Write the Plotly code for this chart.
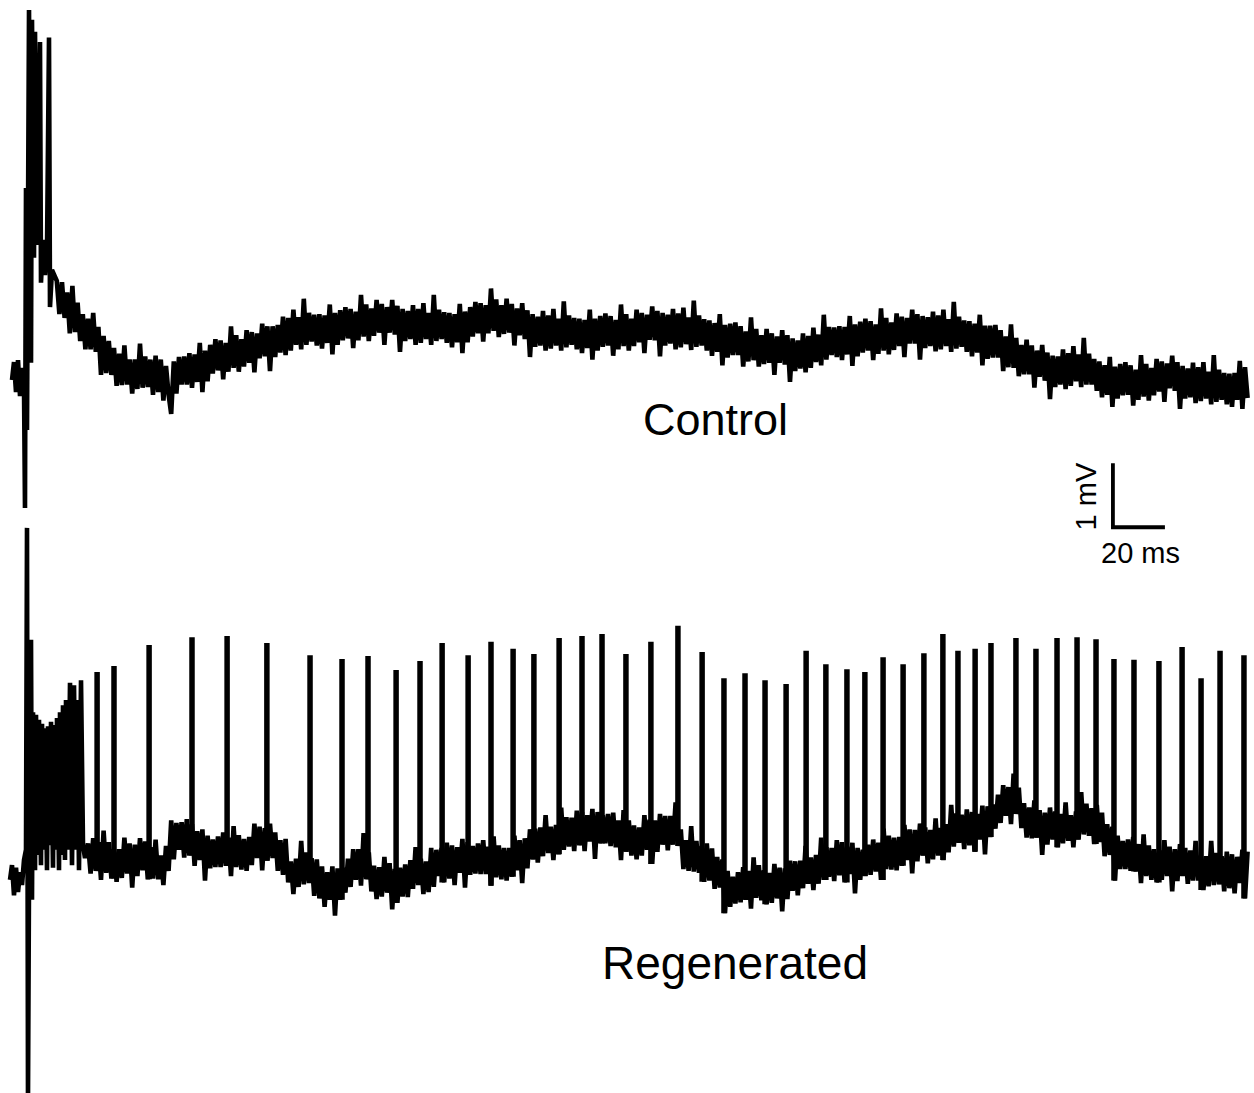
import numpy as np
import plotly.graph_objects as go

# ---------------------------------------------------------------
# Field-potential recordings (time in ms, voltage in mV)
# ---------------------------------------------------------------

# Control: stimulus artefact and onset transient
ctrl_t_onset = [0.77, 1.54, 2.31, 3.08, 3.85, 4.62, 5.38, 5.77, 6.15, 6.54,
                7.31, 8.08, 8.46, 9.23, 9.62, 10.38, 11.54, 11.92, 12.69,
                13.46, 14.23, 15.0, 15.38, 16.15]
ctrl_v_onset = [-0.47, -0.19, -0.66, -0.16, -0.72, -0.28, -0.55, -2.47, 2.53, -1.25,
                5.31, -0.20, 5.16, 1.44, 4.97, 1.64, 4.81, 1.05, 1.72,
                1.17, 1.56, 4.88, 0.67, 1.25]

# Control: samples every 1 ms from 18 ms
ctrl_t_start = 18.0
ctrl_dt = 1.0
ctrl_v = [
    1.08, 0.56, 1.06, 0.50, 0.90, 0.26, 1.00, 0.28, 0.74, 0.14,
    0.56, 0.01, 0.49, 0.01, 0.58, -0.03, 0.36, -0.39, 0.22, -0.36,
    0.14, -0.39, 0.03, -0.56, -0.06, -0.55, 0.07, -0.54, -0.15, -0.68,
    -0.15, -0.61, 0.10, -0.59, -0.10, -0.58, -0.15, -0.70, -0.09, -0.66,
    -0.15, -0.79, -0.25, -0.70, -1.00, -0.18, -0.68, -0.11, -0.54, -0.10,
    -0.54, -0.05, -0.59, -0.07, -0.50, 0.11, -0.66, -0.01, -0.49, 0.08,
    -0.37, 0.17, -0.32, 0.15, -0.46, 0.11, -0.34, 0.37, -0.28, 0.23,
    -0.34, 0.17, -0.26, 0.31, -0.20, 0.28, -0.35, 0.26, -0.13, 0.41,
    -0.10, 0.37, -0.33, 0.37, -0.11, 0.39, -0.04, 0.52, -0.08, 0.50,
    -0.01, 0.63, 0.08, 0.51, 0.01, 0.80, 0.08, 0.58, 0.13, 0.55,
    0.07, 0.56, 0.02, 0.54, 0.11, 0.71, -0.07, 0.58, 0.08, 0.62,
    0.15, 0.67, 0.18, 0.64, 0.03, 0.60, 0.15, 0.86, 0.21, 0.71,
    0.14, 0.65, 0.22, 0.78, 0.27, 0.72, 0.08, 0.67, 0.27, 0.78,
    0.24, 0.69, -0.03, 0.64, 0.14, 0.61, 0.17, 0.70, 0.08, 0.64,
    0.11, 0.73, 0.17, 0.58, 0.08, 0.86, 0.14, 0.63, 0.17, 0.59,
    0.11, 0.58, 0.04, 0.56, 0.12, 0.72, -0.05, 0.60, 0.12, 0.67,
    0.21, 0.75, 0.26, 0.73, 0.13, 0.70, 0.26, 0.96, 0.30, 0.79,
    0.20, 0.70, 0.25, 0.80, 0.27, 0.72, 0.07, 0.65, 0.23, 0.73,
    0.17, 0.62, -0.11, 0.56, 0.05, 0.52, 0.07, 0.61, -0.01, 0.54,
    0.02, 0.64, 0.07, 0.49, -0.01, 0.76, 0.04, 0.54, 0.08, 0.50,
    0.01, 0.49, -0.05, 0.47, 0.03, 0.63, -0.15, 0.49, -0.01, 0.53,
    0.05, 0.57, 0.07, 0.53, -0.09, 0.47, 0.01, 0.71, 0.06, 0.56,
    -0.01, 0.49, 0.06, 0.63, 0.12, 0.58, -0.05, 0.55, 0.16, 0.68,
    0.15, 0.61, -0.10, 0.58, 0.07, 0.55, 0.10, 0.64, 0.01, 0.57,
    0.04, 0.66, 0.09, 0.51, 0.00, 0.77, 0.05, 0.54, 0.07, 0.48,
    -0.01, 0.46, -0.09, 0.42, -0.03, 0.56, -0.24, 0.39, -0.12, 0.41,
    -0.08, 0.43, -0.08, 0.37, -0.26, 0.29, -0.18, 0.51, -0.16, 0.33,
    -0.26, 0.23, -0.22, 0.33, -0.20, 0.26, -0.39, 0.21, -0.20, 0.31,
    -0.23, 0.23, -0.50, 0.18, -0.33, 0.15, -0.29, 0.26, -0.35, 0.22,
    -0.28, 0.35, -0.19, 0.24, -0.24, 0.55, -0.15, 0.36, -0.08, 0.35,
    -0.11, 0.37, -0.16, 0.36, -0.07, 0.53, -0.25, 0.40, -0.10, 0.44,
    -0.04, 0.49, -0.01, 0.45, -0.16, 0.40, -0.06, 0.65, -0.01, 0.50,
    -0.07, 0.43, 0.00, 0.57, 0.06, 0.52, -0.11, 0.50, 0.10, 0.63,
    0.10, 0.56, -0.15, 0.53, 0.03, 0.51, 0.06, 0.60, -0.02, 0.54,
    0.01, 0.63, 0.06, 0.48, -0.03, 0.75, 0.02, 0.52, 0.05, 0.46,
    -0.03, 0.45, -0.10, 0.41, -0.04, 0.55, -0.24, 0.38, -0.14, 0.38,
    -0.12, 0.39, -0.12, 0.31, -0.33, 0.21, -0.27, 0.40, -0.28, 0.19,
    -0.41, 0.08, -0.38, 0.16, -0.38, 0.07, -0.59, -0.01, -0.42, 0.08,
    -0.48, -0.04, -0.77, -0.09, -0.58, -0.10, -0.54, 0.01, -0.61, -0.05,
    -0.56, 0.06, -0.49, -0.07, -0.58, 0.19, -0.54, -0.06, -0.54, -0.14,
    -0.64, -0.18, -0.74, -0.24, -0.70, -0.11, -0.89, -0.26, -0.76, -0.22,
    -0.71, -0.19, -0.70, -0.24, -0.87, -0.31, -0.78, -0.08, -0.73, -0.22,
    -0.79, -0.28, -0.71, -0.14, -0.65, -0.18, -0.81, -0.21, -0.60, -0.09,
    -0.64, -0.19, -0.92, -0.25, -0.76, -0.29, -0.74, -0.20, -0.83, -0.27,
    -0.80, -0.19, -0.76, -0.34, -0.85, -0.08, -0.81, -0.31, -0.78, -0.36,
    -0.85, -0.37, -0.89, -0.36, -0.78, -0.17, -0.92, -0.27, -0.75,
]

# Regenerated: artefact and high-frequency burst at onset
regen_t_onset = [0.0, 0.77, 1.54, 2.31, 3.08, 3.85, 4.62, 5.38, 6.15, 6.54,
                 6.92, 7.31, 8.08, 8.46, 8.85, 9.62, 10.0, 10.77, 11.15, 11.92,
                 12.31, 13.08, 13.46, 14.23, 14.62, 15.38, 15.77, 16.54, 16.92, 17.69,
                 18.08, 18.85, 19.23, 20.0, 20.38, 21.15, 21.54, 22.31, 23.08, 23.85,
                 24.62, 25.38, 25.77, 26.54, 27.31, 28.08, 28.85]
regen_v_onset = [-0.31, -0.08, -0.55, -0.12, -0.50, -0.19, -0.39, 0.00, 0.16, 5.19,
                 -3.75, -0.31, 3.44, -0.62, 2.31, -0.16, 2.27, 0.08, 2.19, -0.08,
                 2.13, 0.16, 2.06, -0.16, 2.09, 0.23, 2.16, -0.12, 2.11, 0.16,
                 2.22, -0.16, 2.31, 0.08, 2.42, 0.00, 2.50, 0.16, 2.77, -0.08,
                 2.73, 0.16, 2.50, -0.16, 2.81, 0.23, 0.03]

# Regenerated: samples every 1 ms from 30 ms (between spikes)
regen_t_start = 30.0
regen_dt = 1.0
regen_v = [
    0.26, -0.21, 0.34, -0.17, 0.28, -0.31, 0.46, -0.20, 0.28, -0.29,
    0.17, -0.34, 0.17, -0.28, 0.35, -0.21, 0.26, -0.43, 0.24, -0.25,
    0.34, -0.16, 0.29, -0.30, 0.20, -0.29, 0.32, -0.30, 0.07, -0.39,
    0.22, -0.17, 0.62, 0.01, 0.58, 0.16, 0.59, 0.04, 0.64, 0.07,
    0.56, -0.09, 0.45, 0.00, 0.48, -0.32, 0.38, -0.13, 0.32, -0.11,
    0.37, -0.11, 0.43, -0.09, 0.35, -0.25, 0.53, -0.11, 0.39, -0.15,
    0.33, -0.17, 0.36, -0.08, 0.57, 0.03, 0.52, -0.16, 0.50, -0.01,
    0.57, 0.03, 0.43, -0.17, 0.31, -0.23, 0.33, -0.35, -0.02, -0.53,
    0.02, -0.42, 0.30, -0.38, 0.12, -0.36, 0.03, -0.56, 0.01, -0.60,
    -0.10, -0.73, -0.19, -0.62, -0.10, -0.87, -0.13, -0.62, -0.12, -0.51,
    0.02, -0.42, 0.17, -0.31, 0.17, -0.40, 0.42, -0.30, 0.12, -0.49,
    -0.09, -0.61, -0.11, -0.57, 0.05, -0.51, -0.05, -0.77, -0.14, -0.67,
    -0.12, -0.57, -0.07, -0.58, 0.00, -0.45, 0.20, -0.39, 0.02, -0.53,
    -0.02, -0.50, 0.19, -0.42, 0.16, -0.25, 0.19, -0.35, 0.27, -0.29,
    0.23, -0.39, 0.20, -0.20, 0.33, -0.43, 0.28, -0.23, 0.22, -0.21,
    0.26, -0.22, 0.31, -0.22, 0.21, -0.40, 0.37, -0.27, 0.23, -0.30,
    0.19, -0.32, 0.19, -0.26, 0.38, -0.16, 0.31, -0.36, 0.34, -0.13,
    0.48, 0.01, 0.49, -0.04, 0.51, 0.06, 0.70, 0.11, 0.52, 0.00,
    0.55, 0.09, 0.82, 0.16, 0.67, 0.21, 0.66, 0.14, 0.77, 0.23,
    0.75, 0.14, 0.70, 0.29, 0.80, 0.02, 0.75, 0.26, 0.70, 0.26,
    0.72, 0.22, 0.74, 0.20, 0.62, 0.00, 0.78, 0.13, 0.62, 0.07,
    0.54, 0.01, 0.51, 0.07, 0.70, 0.16, 0.63, -0.06, 0.62, 0.13,
    0.72, 0.24, 0.69, 0.15, 0.69, 0.24, 0.90, 0.22, 0.48, -0.14,
    0.31, -0.17, 0.53, -0.18, 0.30, -0.20, 0.22, -0.34, 0.26, -0.32,
    0.18, -0.45, 0.05, -0.43, 0.01, -0.83, -0.17, -0.73, -0.26, -0.68,
    -0.19, -0.66, -0.11, -0.62, -0.17, -0.76, 0.04, -0.59, -0.08, -0.63,
    -0.16, -0.69, -0.20, -0.67, -0.06, -0.60, -0.12, -0.80, -0.13, -0.61,
    -0.01, -0.48, -0.02, -0.55, -0.01, -0.44, 0.22, -0.37, 0.04, -0.47,
    0.08, -0.37, 0.35, -0.31, 0.20, -0.26, 0.19, -0.33, 0.31, -0.24,
    0.28, -0.35, 0.21, -0.22, 0.27, -0.52, 0.19, -0.31, 0.16, -0.25,
    0.24, -0.23, 0.32, -0.18, 0.27, -0.31, 0.49, -0.14, 0.38, -0.15,
    0.35, -0.16, 0.36, -0.09, 0.55, 0.00, 0.48, -0.21, 0.47, -0.02,
    0.57, 0.07, 0.51, -0.05, 0.47, 0.01, 0.65, 0.07, 0.50, 0.00,
    0.56, 0.12, 0.86, 0.21, 0.73, 0.27, 0.71, 0.17, 0.79, 0.23,
    0.75, 0.13, 0.72, 0.32, 0.85, 0.09, 0.84, 0.36, 0.87, 0.49,
    1.02, 0.58, 1.17, 0.69, 1.14, 0.56, 1.35, 0.72, 1.13, 0.50,
    0.89, 0.35, 0.82, 0.34, 0.93, 0.35, 0.78, 0.08, 0.74, 0.24,
    0.82, 0.32, 0.76, 0.20, 0.72, 0.26, 0.90, 0.30, 0.70, 0.20,
    0.76, 0.32, 1.06, 0.40, 0.88, 0.38, 0.81, 0.25, 0.86, 0.28,
    0.74, 0.06, 0.56, 0.08, 0.52, -0.32, 0.38, -0.14, 0.30, -0.14,
    0.32, -0.17, 0.36, -0.18, 0.25, -0.36, 0.40, -0.25, 0.23, -0.31,
    0.17, -0.35, 0.15, -0.31, 0.31, -0.25, 0.21, -0.49, 0.17, -0.33,
    0.25, -0.25, 0.19, -0.37, 0.15, -0.32, 0.30, -0.32, 0.07, -0.47,
    0.06, -0.41, 0.30, -0.39, 0.11, -0.38, 0.06, -0.49, 0.13, -0.44,
    0.09, -0.52, 0.05, -0.36, 0.16, -0.60, 0.13,
]

# Regenerated: action-potential times (ms) and peak voltages (mV)
spike_t = [33.5, 40.0, 53.5, 70.0, 83.5, 98.8, 115.4, 127.7, 137.7, 148.5,
           157.7, 166.2, 176.2, 185.0, 193.5, 201.5, 211.2, 220.0, 227.7, 236.9,
           246.5, 256.9, 266.2, 274.6, 282.7, 290.4, 298.5, 306.2, 313.8, 321.9,
           328.8, 335.8, 343.5, 351.5, 358.8, 364.6, 371.2, 377.3, 386.9, 394.6,
           402.7, 410.4, 417.7, 424.6, 432.3, 441.9, 450.8, 458.1, 465.4, 474.6]
spike_v = [2.94, 3.03, 3.36, 3.48, 3.50, 3.39, 3.20, 3.14, 3.19, 2.97,
           3.11, 3.39, 3.20, 3.41, 3.30, 3.22, 3.47, 3.50, 3.53, 3.22,
           3.41, 3.66, 3.25, 2.84, 2.92, 2.81, 2.75, 3.27, 3.06, 2.98,
           2.94, 3.17, 3.06, 3.23, 3.53, 3.27, 3.30, 3.39, 3.47, 3.30,
           3.47, 3.48, 3.45, 3.14, 3.13, 3.11, 3.33, 2.84, 3.27, 3.20]

# Vertical placement of each sweep on the page (mV)
CTRL_OFFSET = 11.61
REGEN_OFFSET = 3.64

# Scale bar: 20 ms x 1 mV
BAR_T0, BAR_V0 = 424.2, 8.84
BAR_MS, BAR_MV = 20.0, 1.0

# ---------------------------------------------------------------
# Assemble sweeps
# ---------------------------------------------------------------
ctrl_time = np.concatenate([ctrl_t_onset,
                            ctrl_t_start + ctrl_dt * np.arange(len(ctrl_v))])
ctrl_volt = np.concatenate([ctrl_v_onset, ctrl_v])

regen_samp_t = regen_t_start + regen_dt * np.arange(len(regen_v))
regen_samp_v = np.asarray(regen_v)
regen_time = np.concatenate([regen_t_onset, regen_samp_t])
regen_volt = np.concatenate([regen_v_onset, regen_samp_v])

# Each spike rises from the lower of the two samples that bracket it
spk_x, spk_y = [], []
for ts, vs in zip(spike_t, spike_v):
    i = int(np.searchsorted(regen_samp_t, ts))
    lo = max(i - 1, 0)
    hi = min(i, len(regen_samp_t) - 1)
    base = min(regen_samp_v[lo], regen_samp_v[hi])
    spk_x += [ts, ts, None]
    spk_y += [base + REGEN_OFFSET, vs + REGEN_OFFSET, None]

trace_line = dict(color="black", width=4.6, simplify=False)

fig = go.Figure()
fig.add_trace(go.Scatter(x=ctrl_time, y=ctrl_volt + CTRL_OFFSET, mode="lines",
                         line=trace_line, hoverinfo="skip"))
fig.add_trace(go.Scatter(x=regen_time, y=regen_volt + REGEN_OFFSET, mode="lines",
                         line=trace_line, hoverinfo="skip"))
fig.add_trace(go.Scatter(x=spk_x, y=spk_y, mode="lines",
                         line=dict(color="black", width=5.5), hoverinfo="skip"))
fig.add_trace(go.Scatter(x=[BAR_T0, BAR_T0, BAR_T0 + BAR_MS],
                         y=[BAR_V0 + BAR_MV, BAR_V0, BAR_V0],
                         mode="lines", line=dict(color="black", width=3.8),
                         hoverinfo="skip"))

label_font = dict(family="Liberation Sans, Arial, sans-serif", color="black")
fig.add_annotation(x=271.2, y=10.52, text="Control", showarrow=False,
                   font=dict(size=45, **label_font))
fig.add_annotation(x=278.8, y=2.03, text="Regenerated", showarrow=False,
                   font=dict(size=46, **label_font))
fig.add_annotation(x=BAR_T0 + BAR_MS / 2 + 0.6, y=BAR_V0 - 0.40, text="20 ms",
                   showarrow=False, font=dict(size=29, **label_font))
fig.add_annotation(x=BAR_T0 - 10.4, y=BAR_V0 + BAR_MV / 2 - 0.02, text="1 mV",
                   textangle=-90, showarrow=False, font=dict(size=29, **label_font))

fig.update_layout(
    width=1254, height=1093,
    margin=dict(l=0, r=0, t=0, b=0),
    paper_bgcolor="white", plot_bgcolor="white",
    showlegend=False,
    xaxis=dict(range=[-3.846, 478.46], visible=False, fixedrange=True),
    yaxis=dict(range=[0, 17.078], visible=False, fixedrange=True),
)

fig.write_html("out.html")
